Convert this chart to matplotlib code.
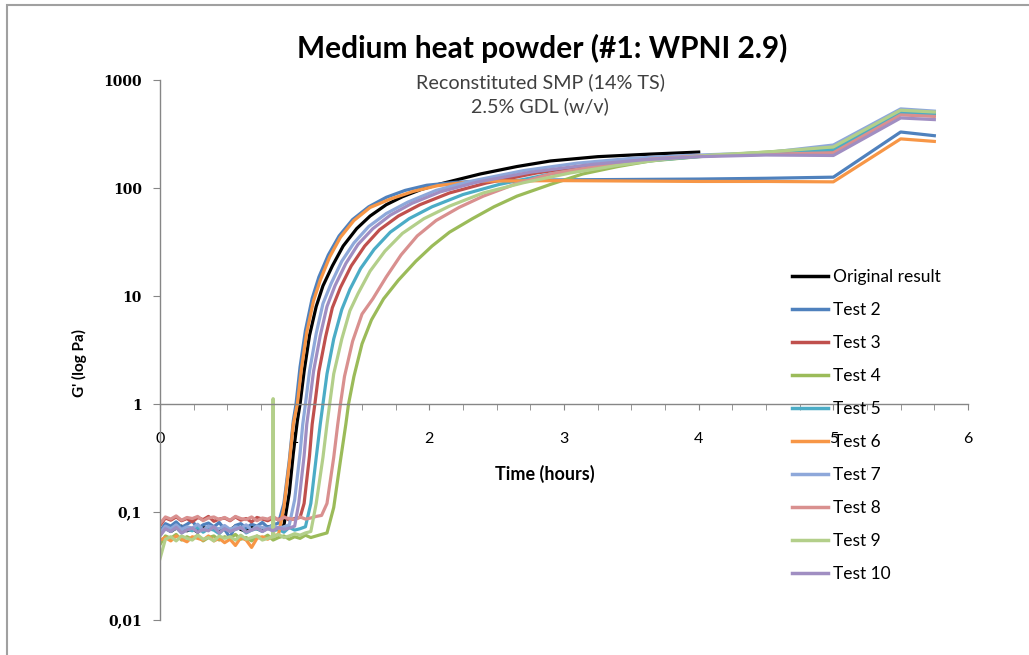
import numpy as np
import matplotlib
matplotlib.use('Agg')
from matplotlib import pyplot as plt
from matplotlib.patches import Rectangle
from matplotlib.ticker import MultipleLocator, NullLocator

# series names / colours (legend order)
names = ['Original result', 'Test 2', 'Test 3', 'Test 4', 'Test 5',
         'Test 6', 'Test 7', 'Test 8', 'Test 9', 'Test 10']
colors = ['#000000', '#4F81BD', '#C0504D', '#9BBB59', '#4BACC6',
          '#F79646', '#8EA8DA', '#D9908F', '#B3CF8A', '#A08EC2']

y_ticks = [0.01, 0.1, 1, 10, 100, 1000]
y_labels = ['0,01', '0,1', '1', '10', '100', '1000']
x_ticks = [0, 1, 2, 3, 4, 5, 6]

# time grid of the noisy baseline before gelation (hours)
base_t = np.round(np.arange(0, 1.25, 0.04), 2)

# baseline G' readings (Pa), one list per series
base_orig = [0.068, 0.072, 0.066, 0.071, 0.074, 0.067, 0.070, 0.065, 0.072, 0.069, 0.073, 0.066,
             0.071, 0.068, 0.074, 0.069, 0.066, 0.072, 0.070, 0.067, 0.073, 0.069, 0.071, 0.075]
base_t2 = [0.066, 0.078, 0.074, 0.081, 0.072, 0.077, 0.083, 0.070, 0.076, 0.079, 0.073, 0.080,
           0.069, 0.058, 0.075, 0.078, 0.071, 0.077, 0.074, 0.080, 0.072, 0.076, 0.079]
base_t3 = [0.075, 0.088, 0.084, 0.090, 0.083, 0.087, 0.081, 0.089, 0.085, 0.091, 0.082, 0.086,
           0.088, 0.083, 0.090, 0.084, 0.087, 0.081, 0.089, 0.086, 0.083, 0.088, 0.085, 0.091,
           0.084, 0.087, 0.089]
base_t4 = [0.050, 0.060, 0.057, 0.062, 0.055, 0.059, 0.056, 0.061, 0.054, 0.058, 0.060, 0.055,
           0.059, 0.057, 0.062, 0.056, 0.058, 0.054, 0.060, 0.057, 0.061, 0.055, 0.058, 0.060,
           0.056, 0.059, 0.057, 0.061, 0.058, 0.060, 0.062, 0.064]
base_t5 = [0.062, 0.070, 0.066, 0.072, 0.064, 0.069, 0.067, 0.073, 0.065, 0.070, 0.068, 0.063,
           0.071, 0.066, 0.069, 0.072, 0.064, 0.068, 0.070, 0.066, 0.071, 0.067, 0.069, 0.065,
           0.072, 0.068, 0.070, 0.073]
base_t6 = [0.055, 0.058, 0.054, 0.060, 0.056, 0.053, 0.059, 0.057, 0.055, 0.060, 0.054, 0.057,
           0.052, 0.056, 0.049, 0.058, 0.055, 0.047, 0.057, 0.059, 0.056, 0.060, 0.062]
base_t7 = [0.064, 0.074, 0.070, 0.076, 0.069, 0.073, 0.071, 0.077, 0.068, 0.074, 0.072, 0.070,
           0.075, 0.069, 0.073, 0.071, 0.076, 0.068, 0.074, 0.072, 0.070, 0.075, 0.071, 0.073,
           0.076]
base_t8 = [0.078, 0.090, 0.086, 0.092, 0.084, 0.089, 0.087, 0.091, 0.083, 0.088, 0.090, 0.085,
           0.089, 0.084, 0.091, 0.087, 0.085, 0.090, 0.083, 0.088, 0.086, 0.091, 0.084, 0.089,
           0.087, 0.085, 0.090, 0.086, 0.088, 0.091, 0.093]
base_t9 = [0.037, 0.056, 0.059, 0.054, 0.060, 0.057, 0.055, 0.061, 0.056, 0.058, 0.054, 0.060,
           0.057, 0.059, 0.055, 0.061, 0.056, 0.058, 0.060, 0.055, 0.057, 0.059, 0.062, 0.058,
           0.060, 0.063, 0.061, 0.064, 0.066]
base_t10 = [0.060, 0.070, 0.066, 0.072, 0.064, 0.068, 0.071, 0.065, 0.069, 0.067, 0.073, 0.064,
            0.070, 0.066, 0.069, 0.072, 0.065, 0.068, 0.071, 0.066, 0.070, 0.067, 0.072, 0.069,
            0.071, 0.074]

# gelation part: times (h) and G' (Pa)
rise_orig_t = [0.96, 0.99, 1.02, 1.04, 1.07, 1.11, 1.16, 1.21, 1.28, 1.36, 1.46, 1.56, 1.68,
               1.80, 1.94, 2.08, 2.38, 2.65, 2.90, 3.25, 3.64, 4.00]
rise_orig_g = [0.15, 0.35, 0.7, 1.0, 2.0, 4.3, 8.0, 12.4, 19, 29, 42, 55, 70,
               83, 97, 109, 135, 158, 178, 195, 206, 215]
rise_t2_t = [0.92, 0.96, 0.99, 1.01, 1.04, 1.08, 1.13, 1.18, 1.25, 1.33, 1.43, 1.55, 1.68,
             1.82, 1.98, 2.20, 2.50, 3.00, 3.50, 4.00, 4.50, 5.00, 5.50, 5.75]
rise_t2_g = [0.12, 0.3, 0.7, 1.0, 2.2, 4.8, 9.5, 15, 24, 36, 51, 67, 82,
             95, 106, 113, 117, 119, 120, 121, 123, 126, 330, 305]
rise_t3_t = [1.07, 1.11, 1.13, 1.15, 1.18, 1.23, 1.28, 1.34, 1.42, 1.52, 1.63, 1.77, 1.93,
             2.15, 2.42, 2.80, 3.20, 3.60, 4.00, 4.50, 5.00, 5.50, 5.75]
rise_t3_g = [0.12, 0.33, 0.65, 1.0, 2.0, 4.2, 7.8, 12, 19, 29, 41, 55, 70,
             90, 111, 138, 162, 183, 198, 207, 218, 490, 470]
rise_t4_t = [1.29, 1.34, 1.38, 1.40, 1.44, 1.50, 1.57, 1.66, 1.77, 1.90, 2.02, 2.15, 2.32,
             2.48, 2.65, 2.90, 3.14, 3.40, 3.64, 4.00, 4.50, 5.00, 5.50, 5.75]
rise_t4_g = [0.11, 0.3, 0.65, 1.0, 1.8, 3.6, 6.0, 9.4, 14, 21, 29, 39, 52,
             67, 84, 108, 135, 158, 178, 195, 215, 235, 515, 495]
rise_t5_t = [1.12, 1.16, 1.19, 1.21, 1.24, 1.29, 1.35, 1.41, 1.49, 1.59, 1.71, 1.85, 2.02,
             2.25, 2.52, 2.90, 3.30, 3.70, 4.10, 4.50, 5.00, 5.50, 5.75]
rise_t5_g = [0.12, 0.32, 0.65, 1.0, 1.9, 4.0, 7.5, 11.5, 18, 27, 39, 52, 67,
             87, 108, 135, 160, 182, 200, 210, 225, 500, 480]
rise_t6_t = [0.92, 0.96, 0.99, 1.02, 1.05, 1.09, 1.14, 1.19, 1.26, 1.34, 1.44, 1.56, 1.71,
             1.88, 2.06, 2.25, 2.40, 3.00, 3.50, 4.00, 4.50, 5.00, 5.50, 5.75]
rise_t6_g = [0.11, 0.28, 0.65, 1.0, 2.1, 4.6, 9.0, 14, 23, 35, 50, 66, 79,
             93, 105, 112, 116, 117, 116, 115, 115, 114, 285, 270]
rise_t7_t = [1.00, 1.04, 1.06, 1.08, 1.11, 1.16, 1.21, 1.27, 1.35, 1.44, 1.55, 1.68, 1.84,
             2.05, 2.30, 2.70, 3.10, 3.50, 3.90, 4.50, 5.00, 5.50, 5.75]
rise_t7_g = [0.13, 0.35, 0.65, 1.0, 2.0, 4.5, 8.5, 13, 21, 31, 44, 58, 74,
             95, 115, 145, 170, 188, 200, 212, 250, 540, 515]
rise_t8_t = [1.24, 1.29, 1.32, 1.34, 1.37, 1.43, 1.50, 1.58, 1.68, 1.79, 1.91, 2.05, 2.22,
             2.40, 2.65, 2.90, 3.25, 3.64, 4.00, 4.50, 5.00, 5.50, 5.75]
rise_t8_g = [0.12, 0.32, 0.65, 1.0, 1.8, 3.8, 6.8, 9.4, 15, 24, 36, 50, 66,
             84, 110, 135, 160, 185, 198, 205, 212, 475, 460]
rise_t9_t = [1.16, 1.21, 1.24, 1.26, 1.29, 1.35, 1.41, 1.47, 1.56, 1.67, 1.80, 1.96, 2.15,
             2.40, 2.70, 3.05, 3.40, 3.75, 4.10, 4.50, 5.00, 5.50, 5.75]
rise_t9_g = [0.12, 0.32, 0.65, 1.0, 1.9, 4.0, 7.3, 10.5, 17, 26, 38, 52, 68,
             90, 112, 138, 162, 185, 202, 215, 240, 525, 505]
rise_t10_t = [1.03, 1.07, 1.09, 1.11, 1.14, 1.19, 1.24, 1.30, 1.38, 1.47, 1.58, 1.71, 1.87,
              2.08, 2.35, 2.75, 3.20, 3.60, 4.00, 4.50, 5.00, 5.50, 5.75]
rise_t10_g = [0.12, 0.33, 0.65, 1.0, 2.0, 4.3, 8.0, 12.5, 20, 30, 42, 56, 72,
              92, 113, 140, 165, 183, 195, 202, 200, 445, 430]

# single spike in Test 9 baseline
spike_t9_t = [0.836, 0.840, 0.844]
spike_t9_g = [0.06, 1.12, 0.06]

bases = [base_orig, base_t2, base_t3, base_t4, base_t5,
         base_t6, base_t7, base_t8, base_t9, base_t10]
rise_ts = [rise_orig_t, rise_t2_t, rise_t3_t, rise_t4_t, rise_t5_t,
           rise_t6_t, rise_t7_t, rise_t8_t, rise_t9_t, rise_t10_t]
rise_gs = [rise_orig_g, rise_t2_g, rise_t3_g, rise_t4_g, rise_t5_g,
           rise_t6_g, rise_t7_g, rise_t8_g, rise_t9_g, rise_t10_g]

fig = plt.figure(figsize=(10.29, 6.55), dpi=100)
ax = fig.add_axes([160/1029, 1-620/655, (968-160)/1029, (620-80)/655])

for i in range(len(names)):
    t = np.concatenate([base_t[:len(bases[i])], rise_ts[i]])
    g = np.concatenate([bases[i], rise_gs[i]])
    ax.plot(t, g, color=colors[i], lw=2.3, label=names[i], solid_joinstyle='round')
    if names[i] == 'Test 9':
        ax.plot(spike_t9_t, spike_t9_g, color=colors[i], lw=2.3)

ax.set_yscale('log')
ax.set_ylim(0.01, 1000)
ax.set_xlim(0, 6)
ax.set_yticks(y_ticks, y_labels)
ax.yaxis.set_minor_locator(NullLocator())
ax.set_xticks(x_ticks)
ax.xaxis.set_minor_locator(MultipleLocator(0.25))

gray = '#868686'
ax.spines['top'].set_visible(False)
ax.spines['right'].set_visible(False)
ax.spines['bottom'].set_position(('data', 1))
for s in ['left', 'bottom']:
    ax.spines[s].set_color(gray)
    ax.spines[s].set_linewidth(1.0)
ax.tick_params(axis='y', which='major', length=5, color=gray, pad=8)
ax.tick_params(axis='x', which='both', length=4, color=gray, pad=16)
for lab in ax.get_yticklabels():
    lab.set_fontfamily('DejaVu Serif')
    lab.set_fontweight('bold')
    lab.set_fontsize(10)
for lab in ax.get_xticklabels():
    lab.set_fontfamily('Lato')
    lab.set_fontsize(11.5)

fig.text(542/1029, 1-48/655, 'Medium heat powder (#1: WPNI 2.9)', ha='center', va='center',
         fontsize=21.5, fontweight='bold', family='Lato')
fig.text(540/1029, 1-82/655, 'Reconstituted SMP (14% TS)', ha='center', va='center',
         fontsize=14.2, family='Lato', color='#404040')
fig.text(540/1029, 1-106/655, '2.5% GDL (w/v)', ha='center', va='center',
         fontsize=14.2, family='Lato', color='#404040')
fig.text(545/1029, 1-474/655, 'Time (hours)', ha='center', va='center',
         fontsize=13, fontweight='bold', family='Lato')
fig.text(79/1029, 1-363/655, "G' (log Pa)", ha='center', va='center', rotation=90,
         fontsize=11, fontweight='bold', family='Lato')

leg = ax.legend(loc='upper left', bbox_to_anchor=(792/1029, 1-269/655),
                bbox_transform=fig.transFigure, frameon=False, prop={'family': 'Lato', 'size': 12.5},
                handlelength=2.1, handletextpad=0.25, labelspacing=0.98, borderpad=0, borderaxespad=0)
for line in leg.get_lines():
    line.set_linewidth(2.5)

fig.patches.append(Rectangle((7/1029, -0.1), 1.2, 1-5/655+0.1, transform=fig.transFigure,
                             fill=False, ec='#A0A0A0', lw=1.5))

fig.savefig('out.png', dpi=100)
